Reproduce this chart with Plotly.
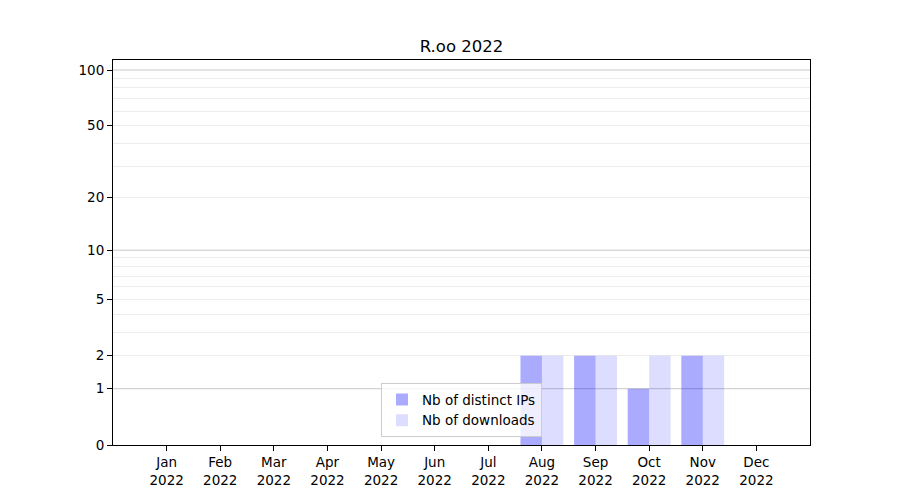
import numpy as np
import plotly.graph_objects as go

# Monthly stats for R.oo in 2022
months = ["Jan", "Feb", "Mar", "Apr", "May", "Jun", "Jul", "Aug", "Sep", "Oct", "Nov", "Dec"]
year = "2022"
distinct_ips = [0, 0, 0, 0, 0, 0, 0, 2, 2, 1, 2, 0]
downloads = [0, 0, 0, 0, 0, 0, 0, 2, 2, 2, 2, 0]

# y axis uses a log10(1 + v) scale
y_tick_values = [0, 1, 2, 5, 10, 20, 50, 100]
minor_grid_values = [2, 3, 4, 5, 6, 7, 8, 9, 20, 30, 40, 50, 60, 70, 80, 90]
decade_grid_values = [1, 10, 100]
y_top_value = 113.3


def tr(v):
    return np.log10(1 + np.asarray(v, dtype=float))


x = list(range(len(months)))
FONT = "DejaVu Sans"

fig = go.Figure()
fig.add_trace(go.Bar(
    x=x, y=tr(distinct_ips), name="Nb of distinct IPs",
    width=0.4, offset=-0.4,
    marker=dict(color="rgba(0,0,255,0.333)", line=dict(width=0)),
))
fig.add_trace(go.Bar(
    x=x, y=tr(downloads), name="Nb of downloads",
    width=0.4, offset=0.0,
    marker=dict(color="rgba(0,0,255,0.133)", line=dict(width=0)),
))

# darker grid lines at each decade
for v in decade_grid_values:
    fig.add_shape(type="line", xref="paper", x0=0, x1=1, yref="y",
                  y0=float(tr(v)), y1=float(tr(v)),
                  line=dict(color="#c8c8c8", width=1), layer="below")

fig.update_layout(
    width=900, height=500,
    margin=dict(l=113, r=90, t=60, b=55),
    paper_bgcolor="white", plot_bgcolor="white",
    font=dict(family=FONT, size=13.5, color="black"),
    title=dict(text="R.oo 2022", x=(113 + 697 / 2) / 900, xanchor="center",
               y=1 - 46 / 500, yanchor="middle",
               font=dict(family=FONT, size=16.5, color="black")),
    barmode="overlay",
    showlegend=True,
    legend=dict(x=0.5, xanchor="center", y=0.02, yanchor="bottom",
                bgcolor="rgba(255,255,255,0.8)", bordercolor="#cccccc",
                borderwidth=1, font=dict(family=FONT, size=13.5),
                tracegroupgap=2),
)

fig.update_xaxes(
    range=[-1, 12],
    tickmode="array", tickvals=x,
    ticktext=[f"{m}<br>{year}" for m in months],
    showgrid=False, zeroline=False,
    showline=True, linecolor="black", linewidth=1, mirror=True,
    ticks="outside", ticklen=5, tickcolor="black",
)
fig.update_yaxes(
    range=[0, float(tr(y_top_value))],
    tickmode="array", tickvals=tr(y_tick_values).tolist(),
    ticktext=[str(v) for v in y_tick_values],
    showgrid=False,
    zeroline=False,
    showline=True, linecolor="black", linewidth=1, mirror=True,
    ticks="outside", ticklen=5, tickcolor="black",
    minor=dict(tickmode="array", tickvals=tr(minor_grid_values).tolist(),
               showgrid=True, gridcolor="#ececec", gridwidth=1, ticks=""),
)

fig.write_html("out.html")
